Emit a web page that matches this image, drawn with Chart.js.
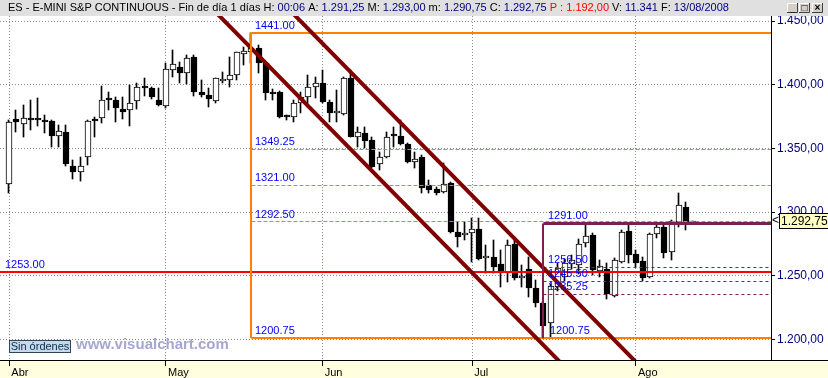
<!DOCTYPE html>
<html>
<head>
<meta charset="utf-8">
<script src="https://cdn.jsdelivr.net/npm/chart.js@4/dist/chart.umd.min.js"></script>
<style>
  html, body { margin: 0; padding: 0; background: #fff; overflow: hidden; }
  #wrap { width: 828px; height: 378px; }
</style>
</head>
<body>
<div id="wrap"><canvas id="chart" width="828" height="378"></canvas></div>
<script>
// ES e-mini daily bars, 1 Apr - 13 Aug 2008
const opens = [
  1321.8, 1372.8, 1368.9, 1373.6, 1373.1, 1371.5, 1371.5, 1359.5, 1362.6, 1336.0,
  1331.2, 1342.9, 1372.3, 1374.1, 1389.6, 1388.0, 1380.9, 1379.9, 1387.2, 1399.0,
  1397.2, 1388.0, 1383.3, 1411.6, 1413.6, 1409.0, 1421.5, 1394.3, 1391.9, 1387.5,
  1403.2, 1403.4, 1407.3, 1424.4, 1426.0, 1428.6, 1416.8, 1393.7, 1394.5, 1375.2,
  1374.4, 1385.4, 1390.1, 1397.9, 1401.1, 1386.2, 1377.5, 1376.7, 1405.0, 1358.7,
  1361.8, 1356.6, 1337.7, 1342.9, 1360.5, 1360.0, 1353.2, 1339.3, 1343.5, 1321.2,
  1317.8, 1315.5, 1322.5, 1284.6, 1281.9, 1283.2, 1286.4, 1263.6, 1264.9, 1259.1,
  1251.8, 1274.6, 1248.4, 1255.2, 1240.6, 1228.2, 1212.5, 1241.0, 1249.0, 1259.5,
  1258.4, 1275.4, 1281.9, 1253.5, 1255.0, 1234.3, 1261.0, 1285.1, 1266.7, 1261.5,
  1249.2, 1282.5, 1288.0, 1268.3, 1292.4, 1303.7, 1291.25
];
const highs = [
  1372.3, 1380.1, 1384.1, 1388.0, 1389.3, 1376.2, 1372.3, 1368.4, 1368.4, 1341.0,
  1343.5, 1372.3, 1374.9, 1399.0, 1394.5, 1390.1, 1390.1, 1399.8, 1401.6, 1405.0,
  1398.5, 1397.2, 1416.8, 1427.3, 1418.1, 1423.3, 1423.3, 1403.7, 1397.2, 1405.5,
  1410.2, 1422.0, 1426.0, 1429.9, 1441.0, 1431.2, 1418.1, 1397.0, 1395.0, 1376.5,
  1388.0, 1394.5, 1407.6, 1406.3, 1411.6, 1388.0, 1395.8, 1406.3, 1411.6, 1367.0,
  1367.0, 1359.2, 1347.4, 1363.1, 1367.0, 1372.3, 1354.0, 1347.4, 1344.8, 1325.1,
  1319.9, 1338.2, 1323.8, 1292.4, 1291.9, 1295.0, 1295.0, 1274.1, 1278.0, 1270.1,
  1278.0, 1280.6, 1258.4, 1264.9, 1246.6, 1229.5, 1243.5, 1260.0, 1263.0, 1266.0,
  1279.0, 1291.6, 1283.2, 1262.0, 1259.7, 1263.6, 1285.9, 1290.6, 1270.1, 1264.9,
  1283.2, 1289.8, 1289.8, 1293.7, 1314.7, 1308.1, 1293.0
];
const lows = [
  1315.2, 1363.1, 1359.2, 1364.4, 1367.6, 1361.8, 1351.3, 1351.3, 1336.0, 1325.7,
  1324.6, 1336.9, 1358.6, 1370.2, 1380.1, 1370.9, 1373.1, 1367.8, 1380.7, 1391.1,
  1388.5, 1383.3, 1381.4, 1406.3, 1401.1, 1400.6, 1391.1, 1390.1, 1382.2, 1385.9,
  1401.6, 1398.5, 1403.7, 1415.5, 1416.8, 1409.0, 1388.0, 1388.0, 1373.6, 1372.0,
  1371.0, 1377.5, 1382.7, 1389.3, 1385.4, 1371.0, 1370.9, 1376.2, 1358.7, 1351.3,
  1350.0, 1334.3, 1333.0, 1342.1, 1351.3, 1352.6, 1338.2, 1334.3, 1314.7, 1314.7,
  1313.4, 1314.7, 1283.8, 1272.8, 1278.0, 1261.0, 1262.3, 1251.8, 1251.8, 1241.3,
  1245.3, 1246.6, 1241.3, 1233.5, 1225.6, 1200.75, 1202.1, 1238.0, 1246.0, 1255.0,
  1251.0, 1272.8, 1250.5, 1249.0, 1231.4, 1233.5, 1259.7, 1259.7, 1257.1, 1245.8,
  1247.9, 1279.3, 1263.6, 1262.3, 1288.0, 1285.9, 1290.75
];
const closes = [
  1370.5, 1370.7, 1373.6, 1372.3, 1372.0, 1370.4, 1360.0, 1363.4, 1338.0, 1331.2,
  1336.1, 1371.5, 1371.5, 1387.7, 1388.3, 1381.4, 1378.3, 1385.4, 1397.9, 1397.2,
  1390.6, 1384.3, 1412.1, 1416.0, 1409.0, 1420.7, 1394.5, 1391.7, 1389.0, 1405.0,
  1404.7, 1407.6, 1425.4, 1426.5, 1429.1, 1416.8, 1393.2, 1392.4, 1374.4, 1374.6,
  1385.4, 1390.6, 1397.9, 1401.1, 1386.2, 1378.0, 1378.8, 1405.0, 1359.2, 1363.1,
  1356.0, 1335.6, 1342.9, 1359.2, 1359.7, 1353.4, 1339.5, 1341.4, 1318.6, 1317.3,
  1314.7, 1321.7, 1284.6, 1280.1, 1283.2, 1286.4, 1262.8, 1265.4, 1257.1, 1251.8,
  1274.1, 1247.9, 1249.7, 1240.0, 1228.2, 1210.7, 1242.0, 1256.0, 1260.0, 1262.5,
  1274.6, 1281.4, 1254.4, 1257.5, 1235.3, 1262.3, 1284.5, 1266.2, 1259.7, 1248.4,
  1282.5, 1288.0, 1267.5, 1292.9, 1305.5, 1292.4, 1292.75
];

// first bar of each month
const monthStarts = [0, 22, 44, 65, 88];
const monthLabels = ['Abr', 'May', 'Jun', 'Jul', 'Ago'];
const priceTicks = [1200, 1250, 1300, 1350, 1400, 1450];

// fibonacci: May high -> July low
const fibStart = [34, 1441.00];
const fibEnd = [75, 1200.75];
const fibLevels = [1349.25, 1321.00, 1292.50];
// retracement of the July bounce
const bounceTop = 1291.00;
const bounceLevels = [1256.50, 1245.50, 1235.25];
const supportLevel = 1253.00;
// falling channel, [bar, price] ends
const channelLow = [[28, 1462.6], [80, 1167.0]];
const channelHigh = [[38, 1466.4], [92, 1159.4]];

const titleParts = [
  ['ES - E-MINI S&P CONTINUOUS - Fin de día 1 días ', '#000'],
  ['H: ', '#000'], ['00:06 ', '#000080'],
  ['A: ', '#000'], ['1.291,25 ', '#000080'],
  ['M: ', '#000'], ['1.293,00 ', '#000080'],
  ['m: ', '#000'], ['1.290,75 ', '#000080'],
  ['C: ', '#000'], ['1.292,75 ', '#000080'],
  ['P : 1.192,00 ', '#FF0000'],
  ['V: ', '#000'], ['11.341 ', '#000080'],
  ['F: ', '#000'], ['13/08/2008', '#000080']
];

const xMin = -1.306, xMax = 106.96;
const yMin = 1183.74, yMax = 1453.97;
const FONT = '"Liberation Sans", Arial, sans-serif';
const bars = opens.map((_, i) => i);

function esNum(v) {
  const [a, b] = v.toFixed(2).split('.');
  return a.replace(/\B(?=(\d{3})+$)/g, '.') + ',' + b;
}

function hLine(from, price, color, width, dash) {
  return {
    type: 'line', data: [{ x: from, y: price }, { x: xMax, y: price }],
    borderColor: color, borderWidth: width, borderDash: dash || [],
    pointRadius: 0, fill: false, order: 1, snap: 'h'
  };
}
function segLine(pts, color, width, snap) {
  return {
    type: 'line', data: pts.map(p => ({ x: p[0], y: p[1] })),
    borderColor: color, borderWidth: width,
    pointRadius: 0, fill: false, order: 0, snap: snap
  };
}

const ORANGE = '#FF8000', MAROON = '#7B2152', CHANNEL = '#800000';

const datasets = [
  {
    type: 'bar', label: 'wick',
    data: bars.map(i => ({ x: i, y: [lows[i], highs[i]] })),
    backgroundColor: '#000', barThickness: 1, grouped: false, order: 3
  },
  {
    type: 'bar', label: 'body',
    data: bars.map(i => ({ x: i, y: [opens[i], closes[i]] })),
    backgroundColor: bars.map(i => closes[i] >= opens[i] ? '#fff' : '#000'),
    borderColor: '#000', borderWidth: 1, borderSkipped: false,
    barThickness: 6, minBarLength: 2, grouped: false, order: 2
  },
  hLine(xMin, supportLevel, '#FF0000', 2),
  hLine(fibStart[0], fibStart[1], ORANGE, 2),
  hLine(fibStart[0], fibEnd[1], ORANGE, 2),
  ...fibLevels.map(l => hLine(fibStart[0], l, ORANGE, 1, [4, 2])),
  segLine([[fibStart[0], fibStart[1]], [fibStart[0], fibEnd[1]]], ORANGE, 2, 'v'),
  hLine(fibEnd[0], bounceTop, MAROON, 3),
  ...bounceLevels.map(l => hLine(fibEnd[0], l, MAROON, 1, [3, 3])),
  segLine([[fibEnd[0], bounceTop], [fibEnd[0], fibEnd[1]]], MAROON, 2, 'v'),
  segLine(channelLow, CHANNEL, 4),
  segLine(channelHigh, CHANNEL, 4)
];

// keep thin marks on whole pixels so they stay crisp like the original
const snapPx = (v, w) => (w % 2 ? Math.floor(v) + 0.5 : Math.round(v));

const chrome = {
  id: 'chrome',
  beforeDraw(chart) {
    const { ctx, width, height, chartArea } = chart;
    ctx.save();
    ctx.fillStyle = '#fff';
    ctx.fillRect(0, 0, width, height);
    ctx.fillStyle = '#FFFFE0';
    ctx.fillRect(0, chartArea.bottom, width, height - chartArea.bottom);
    ctx.restore();
  },
  beforeDatasetsDraw(chart) {
    chart.data.datasets.forEach((ds, di) => {
      const meta = chart.getDatasetMeta(di);
      if (ds.type === 'bar') {
        meta.data.forEach(el => {
          const c = Math.round(el.x);
          el.x = ds.barThickness === 1 ? c - 0.5 : c;
          el.y = Math.round(el.y);
          el.base = Math.round(el.base);
        });
      } else if (ds.snap) {
        meta.data.forEach(el => {
          if (ds.snap === 'h') el.y = snapPx(el.y, ds.borderWidth);
          else el.x = snapPx(el.x, ds.borderWidth);
        });
      }
    });
  },
  afterDatasetsDraw(chart) {
    const { ctx, scales: { x, y } } = chart;
    ctx.save();
    ctx.font = '11px ' + FONT;
    ctx.fillStyle = '#0000FF';
    ctx.textBaseline = 'alphabetic';
    const label = (bar, price, dx) =>
      ctx.fillText(price.toFixed(2), Math.round(x.getPixelForValue(bar) + dx), Math.round(y.getPixelForValue(price) - 4));
    label(xMin, supportLevel, 5);
    [fibStart[1], ...fibLevels, fibEnd[1]].forEach(l => label(fibStart[0], l, 4));
    [bounceTop, ...bounceLevels].forEach(l => label(fibEnd[0], l, 5));
    label(fibEnd[0], fibEnd[1], 7);
    ctx.restore();
  },
  afterDraw(chart) {
    const { ctx, width, chartArea, scales: { y } } = chart;
    ctx.save();
    // title bar
    ctx.fillStyle = '#E0E0E0';
    ctx.fillRect(0, 0, width, chartArea.top);
    ctx.font = '11px ' + FONT;
    ctx.textBaseline = 'middle';
    let tx = 8;
    titleParts.forEach(([t, c]) => {
      ctx.fillStyle = c;
      ctx.fillText(t, tx, 8);
      tx += ctx.measureText(t).width;
    });
    // window buttons
    ['_', '□', '×'].forEach((g, k) => {
      const bx = 787 + k * 12 + (k === 2 ? 1 : 0), by = 3;
      ctx.fillStyle = '#D4D0C8';
      ctx.fillRect(bx, by, 11, 10);
      ctx.strokeStyle = '#fff';
      ctx.beginPath(); ctx.moveTo(bx + 0.5, by + 10); ctx.lineTo(bx + 0.5, by + 0.5); ctx.lineTo(bx + 11, by + 0.5); ctx.stroke();
      ctx.strokeStyle = '#404040';
      ctx.beginPath(); ctx.moveTo(bx, by + 9.5); ctx.lineTo(bx + 10.5, by + 9.5); ctx.lineTo(bx + 10.5, by); ctx.stroke();
      ctx.fillStyle = '#000';
      ctx.font = 'bold 10px ' + FONT;
      ctx.textAlign = 'center';
      ctx.fillText(g, bx + 5.5, by + 5);
    });
    ctx.textAlign = 'left';
    // bottom rule across the price axis too
    ctx.strokeStyle = '#000';
    ctx.lineWidth = 1;
    ctx.beginPath();
    ctx.moveTo(chartArea.right, chartArea.bottom + 0.5);
    ctx.lineTo(width, chartArea.bottom + 0.5);
    ctx.stroke();
    // last price tag
    const last = closes[closes.length - 1];
    const py = Math.round(y.getPixelForValue(last));
    ctx.font = '12px ' + FONT;
    ctx.fillStyle = '#000';
    ctx.textBaseline = 'middle';
    ctx.fillText('<', chartArea.right + 1, py);
    ctx.fillStyle = '#FFFFC0';
    ctx.fillRect(chartArea.right + 8, py - 8, 60, 16);
    ctx.strokeRect(chartArea.right + 8.5, py - 7.5, 60, 15);
    ctx.fillStyle = '#000';
    ctx.fillText(esNum(last), chartArea.right + 10, py + 1);
    // orders box and watermark
    ctx.fillStyle = '#C8D6EE';
    ctx.fillRect(9, 340, 62, 13);
    ctx.strokeStyle = '#2F4656';
    ctx.strokeRect(9.5, 340.5, 61, 12);
    ctx.fillStyle = '#003344';
    ctx.font = '11px ' + FONT;
    ctx.textAlign = 'center';
    ctx.fillText('Sin órdenes', 40, 347);
    ctx.textAlign = 'left';
    ctx.fillStyle = '#A6A6D0';
    ctx.font = 'bold 15px ' + FONT;
    ctx.fillText('www.visualchart.com', 76, 345);
    ctx.restore();
  }
};

new Chart(document.getElementById('chart'), {
  type: 'bar',
  data: { datasets },
  options: {
    responsive: false,
    animation: false,
    devicePixelRatio: 1,
    events: [],
    layout: { padding: { top: 16, left: 0, right: 0, bottom: 0 } },
    plugins: { legend: { display: false }, tooltip: { enabled: false }, title: { display: false } },
    scales: {
      x: {
        type: 'linear', position: 'bottom', min: xMin, max: xMax, offset: false,
        afterBuildTicks: s => { s.ticks = monthStarts.map(v => ({ value: v })); },
        afterFit: s => { s.height = 18; },
        grid: { color: '#8C8C8C', tickColor: '#000', tickLength: 6, offset: false },
        border: { color: '#000', width: 1, dash: [1, 2] },
        ticks: {
          align: 'start', padding: 0, labelOffset: 2, autoSkip: false, maxRotation: 0,
          color: '#000', font: { family: FONT, size: 11 },
          callback: v => monthLabels[monthStarts.indexOf(v)]
        }
      },
      y: {
        type: 'linear', position: 'right', min: yMin, max: yMax, beginAtZero: false,
        afterBuildTicks: s => { s.ticks = priceTicks.map(v => ({ value: v })); },
        afterFit: s => { s.width = 57; },
        grid: { color: '#8C8C8C', tickColor: '#000', tickLength: 4 },
        border: { color: '#000', width: 1, dash: [1, 2] },
        ticks: {
          padding: 2, autoSkip: false, color: '#000080',
          font: { family: FONT, size: 12 },
          callback: v => esNum(v)
        }
      }
    }
  },
  plugins: [chrome]
});
</script>
</body>
</html>
